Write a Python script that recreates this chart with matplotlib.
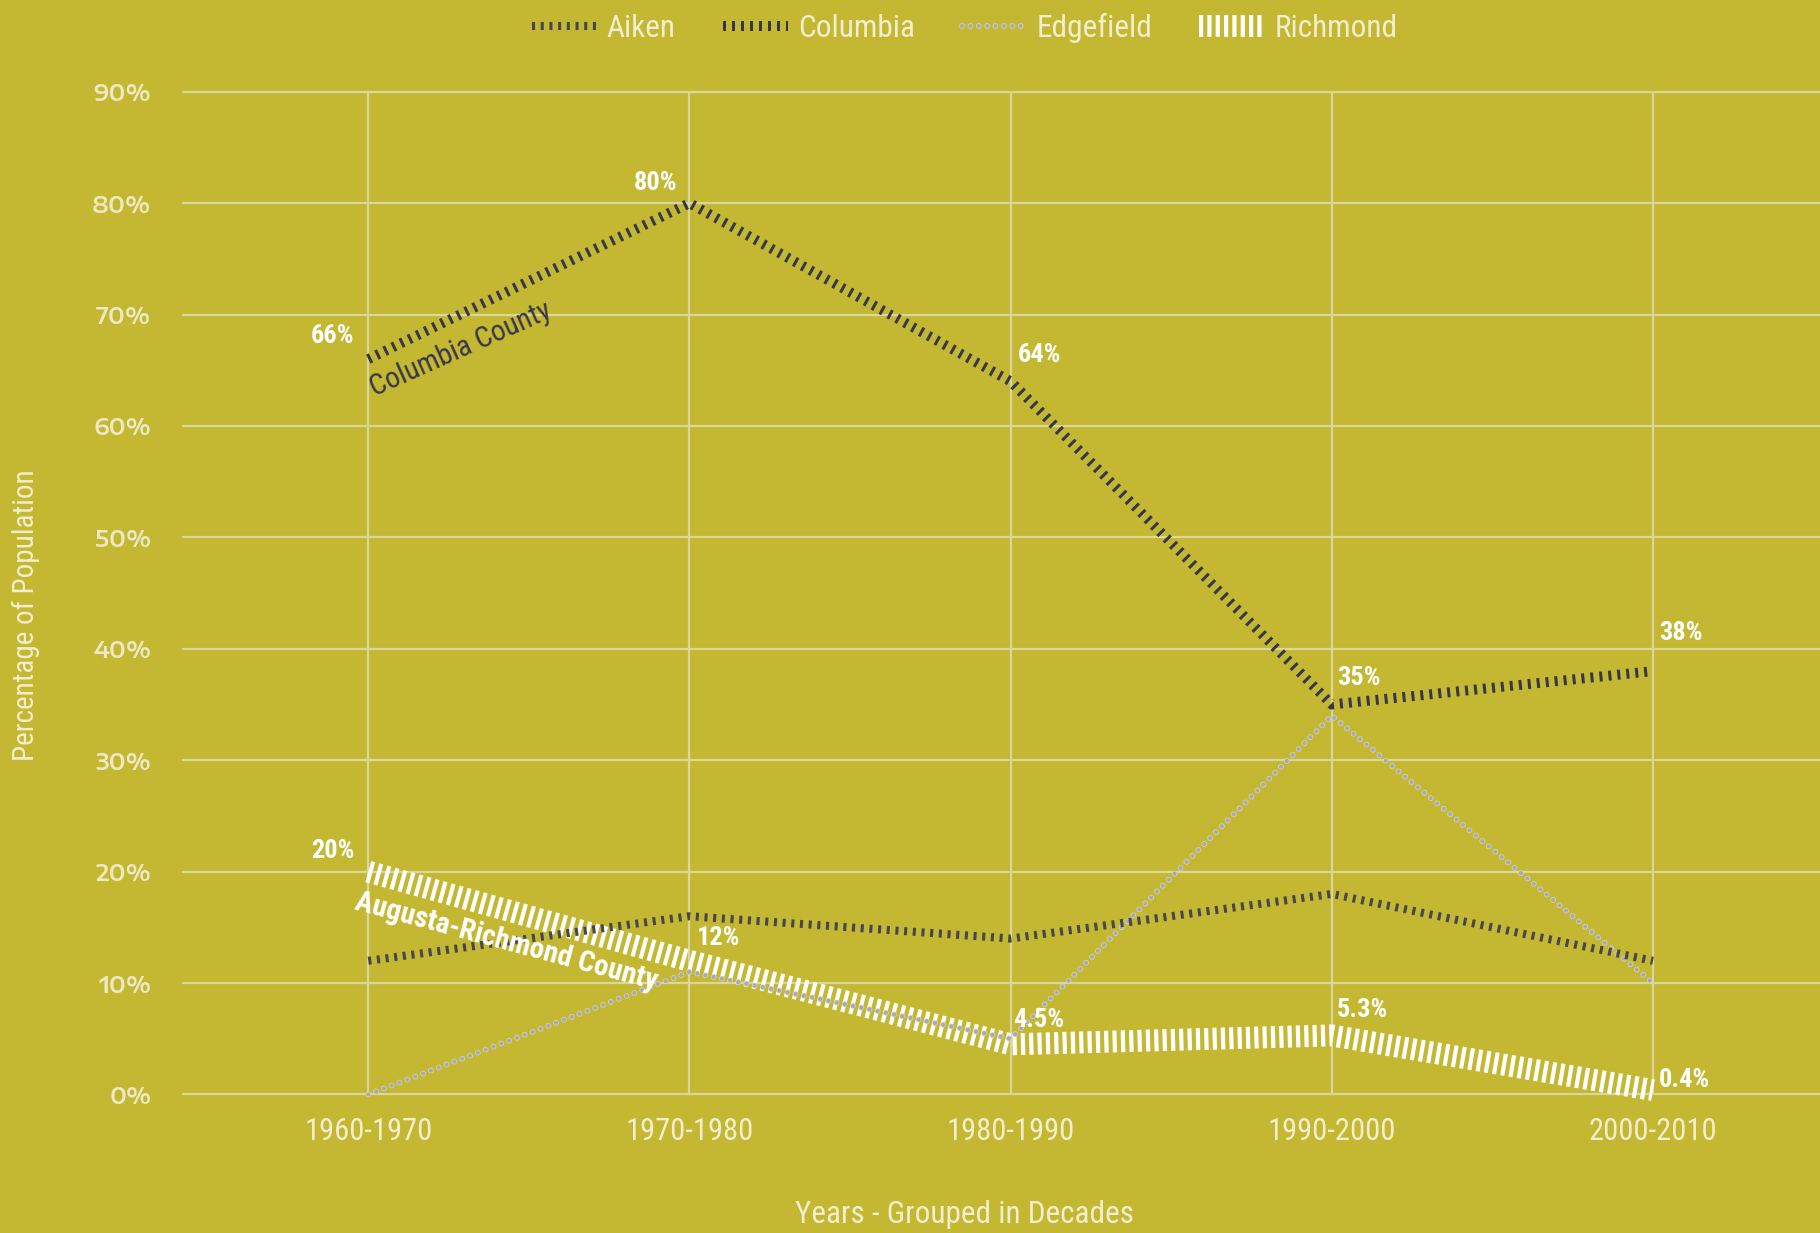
import matplotlib
matplotlib.use("Agg")
import matplotlib.pyplot as plt
from matplotlib.ticker import FuncFormatter
from matplotlib import font_manager as fm
import matplotlib.patheffects as pe

# ---------------- data ----------------
decades = ["1960-1970", "1970-1980", "1980-1990", "1990-2000", "2000-2010"]
aiken = [12, 16, 14, 18, 12]
columbia = [66, 80, 64, 35, 38]
edgefield = [0, 11, 5, 34, 10]
richmond = [20, 12, 4.5, 5.3, 0.4]
y_ticks = [0, 10, 20, 30, 40, 50, 60, 70, 80, 90]

columbia_labels = ["66%", "80%", "64%", "35%", "38%"]
richmond_labels = ["20%", "12%", "4.5%", "5.3%", "0.4%"]

# ---------------- layout / style ----------------
BG = "#C4B732"
GRID = "#DCD59C"
TXT = "#F3EECF"

available = {f.name for f in fm.fontManager.ttflist}
def pick(cands):
    return [c for c in cands if c in available] + ["DejaVu Sans"]

NARROW = pick(["Roboto Condensed", "Archivo Narrow", "Barlow Semi Condensed"])
WIDE = pick(["Encode Sans Expanded", "Archivo", "Arimo"])

# label offsets in pixels (dx, dy, ha)
col_off = [(-14, 23, "right"), (-12, 20, "right"), (7, 26, "left"), (5, 27, "left"), (6, 38, "left")]
ric_off = [(-14, 21, "right"), (7, 23, "left"), (2, 24, "left"), (5, 25, "left"), (6, 10, "left")]

fig = plt.figure(figsize=(18.2, 12.33), dpi=100, facecolor=BG)
ax = fig.add_axes([0.1, 0.1033, 0.9, 0.8404])
ax.set_facecolor(BG)
x = list(range(len(decades)))
ax.set_xlim(-0.58, 4.52)
ax.set_ylim(-1, 92)

# grid lines
ax.hlines(y_ticks, -0.58, 4.52, colors=GRID, linewidth=1.6, zorder=1, clip_on=False)
ax.vlines(x, 0, 90, colors=GRID, linewidth=1.6, zorder=1)

for s in ax.spines.values():
    s.set_visible(False)
ax.tick_params(length=0)
ax.set_xticks(x)
ax.set_xticklabels(decades, fontsize=22, color=TXT, family=NARROW)
ax.tick_params(axis="x", pad=8)
ax.set_yticks(y_ticks)
ax.yaxis.set_major_formatter(FuncFormatter(lambda v, p: f"{int(v)}%"))
for lab in ax.get_yticklabels():
    lab.set_fontsize(16.5)
    lab.set_color("#EEE8C4")
    lab.set_family(WIDE)
    lab.set_fontweight("semibold")
ax.tick_params(axis="y", pad=22)

# series
l_r, = ax.plot(x, richmond, color="white", linewidth=15.8,
               linestyle=(0, (0.19, 0.19)), dash_capstyle="butt",
               solid_joinstyle="miter", zorder=2, clip_on=False, label="Richmond")
l_e, = ax.plot(x, edgefield, color="#A4A9BE", linewidth=3.0,
               linestyle=(0, (0.01, 2.0)), dash_capstyle="round", zorder=3,
               clip_on=False, label="Edgefield",
               path_effects=[pe.Stroke(linewidth=4.2, foreground="#D6D2AE"), pe.Normal()])
l_a, = ax.plot(x, aiken, color="#45464F", linewidth=5.8,
               linestyle=(0, (0.38, 0.7)), dash_capstyle="butt", zorder=3,
               label="Aiken")
l_c, = ax.plot(x, columbia, color="#35364A", linewidth=7.2,
               linestyle=(0, (0.3, 0.6)), dash_capstyle="butt", zorder=4,
               label="Columbia")

# value labels
for xi, yi, t, (dx, dy, ha) in zip(x, columbia, columbia_labels, col_off):
    ax.annotate(t, (xi, yi), xytext=(dx, dy), textcoords="offset pixels",
                ha=ha, va="center", fontsize=19, fontweight="bold",
                color="white", family=NARROW, zorder=6)
for xi, yi, t, (dx, dy, ha) in zip(x, richmond, richmond_labels, ric_off):
    ax.annotate(t, (xi, yi), xytext=(dx, dy), textcoords="offset pixels",
                ha=ha, va="center", fontsize=19, fontweight="bold",
                color="white", family=NARROW, zorder=6)

# inline series labels
ax.text(0.02, 62.6, "Columbia County", rotation=24, rotation_mode="anchor",
        ha="left", va="baseline", fontsize=21, color="#35364A",
        family=NARROW, zorder=6)
ax.text(-0.047, 16.6, "Augusta-Richmond County", rotation=-15, rotation_mode="anchor",
        ha="left", va="baseline", fontsize=21, fontweight="bold", color="white",
        family=NARROW, zorder=6)

# axis titles
fig.text(0.014, 0.501, "Percentage of Population", rotation=90, ha="center",
         va="center", fontsize=21, color=TXT, family=NARROW)
fig.text(0.530, 0.0154, "Years - Grouped in Decades", ha="center", va="center",
         fontsize=22.5, color=TXT, family=NARROW)

# legend
leg = fig.legend(handles=[l_a, l_c, l_e, l_r], loc="center", ncol=4,
                 bbox_to_anchor=(0.530, 0.977), frameon=False,
                 handlelength=2.1, handletextpad=0.3, columnspacing=1.5,
                 prop={"family": NARROW, "size": 22.5})
for t in leg.get_texts():
    t.set_color(TXT)

fig.savefig("out.png", dpi=100, facecolor=BG)
